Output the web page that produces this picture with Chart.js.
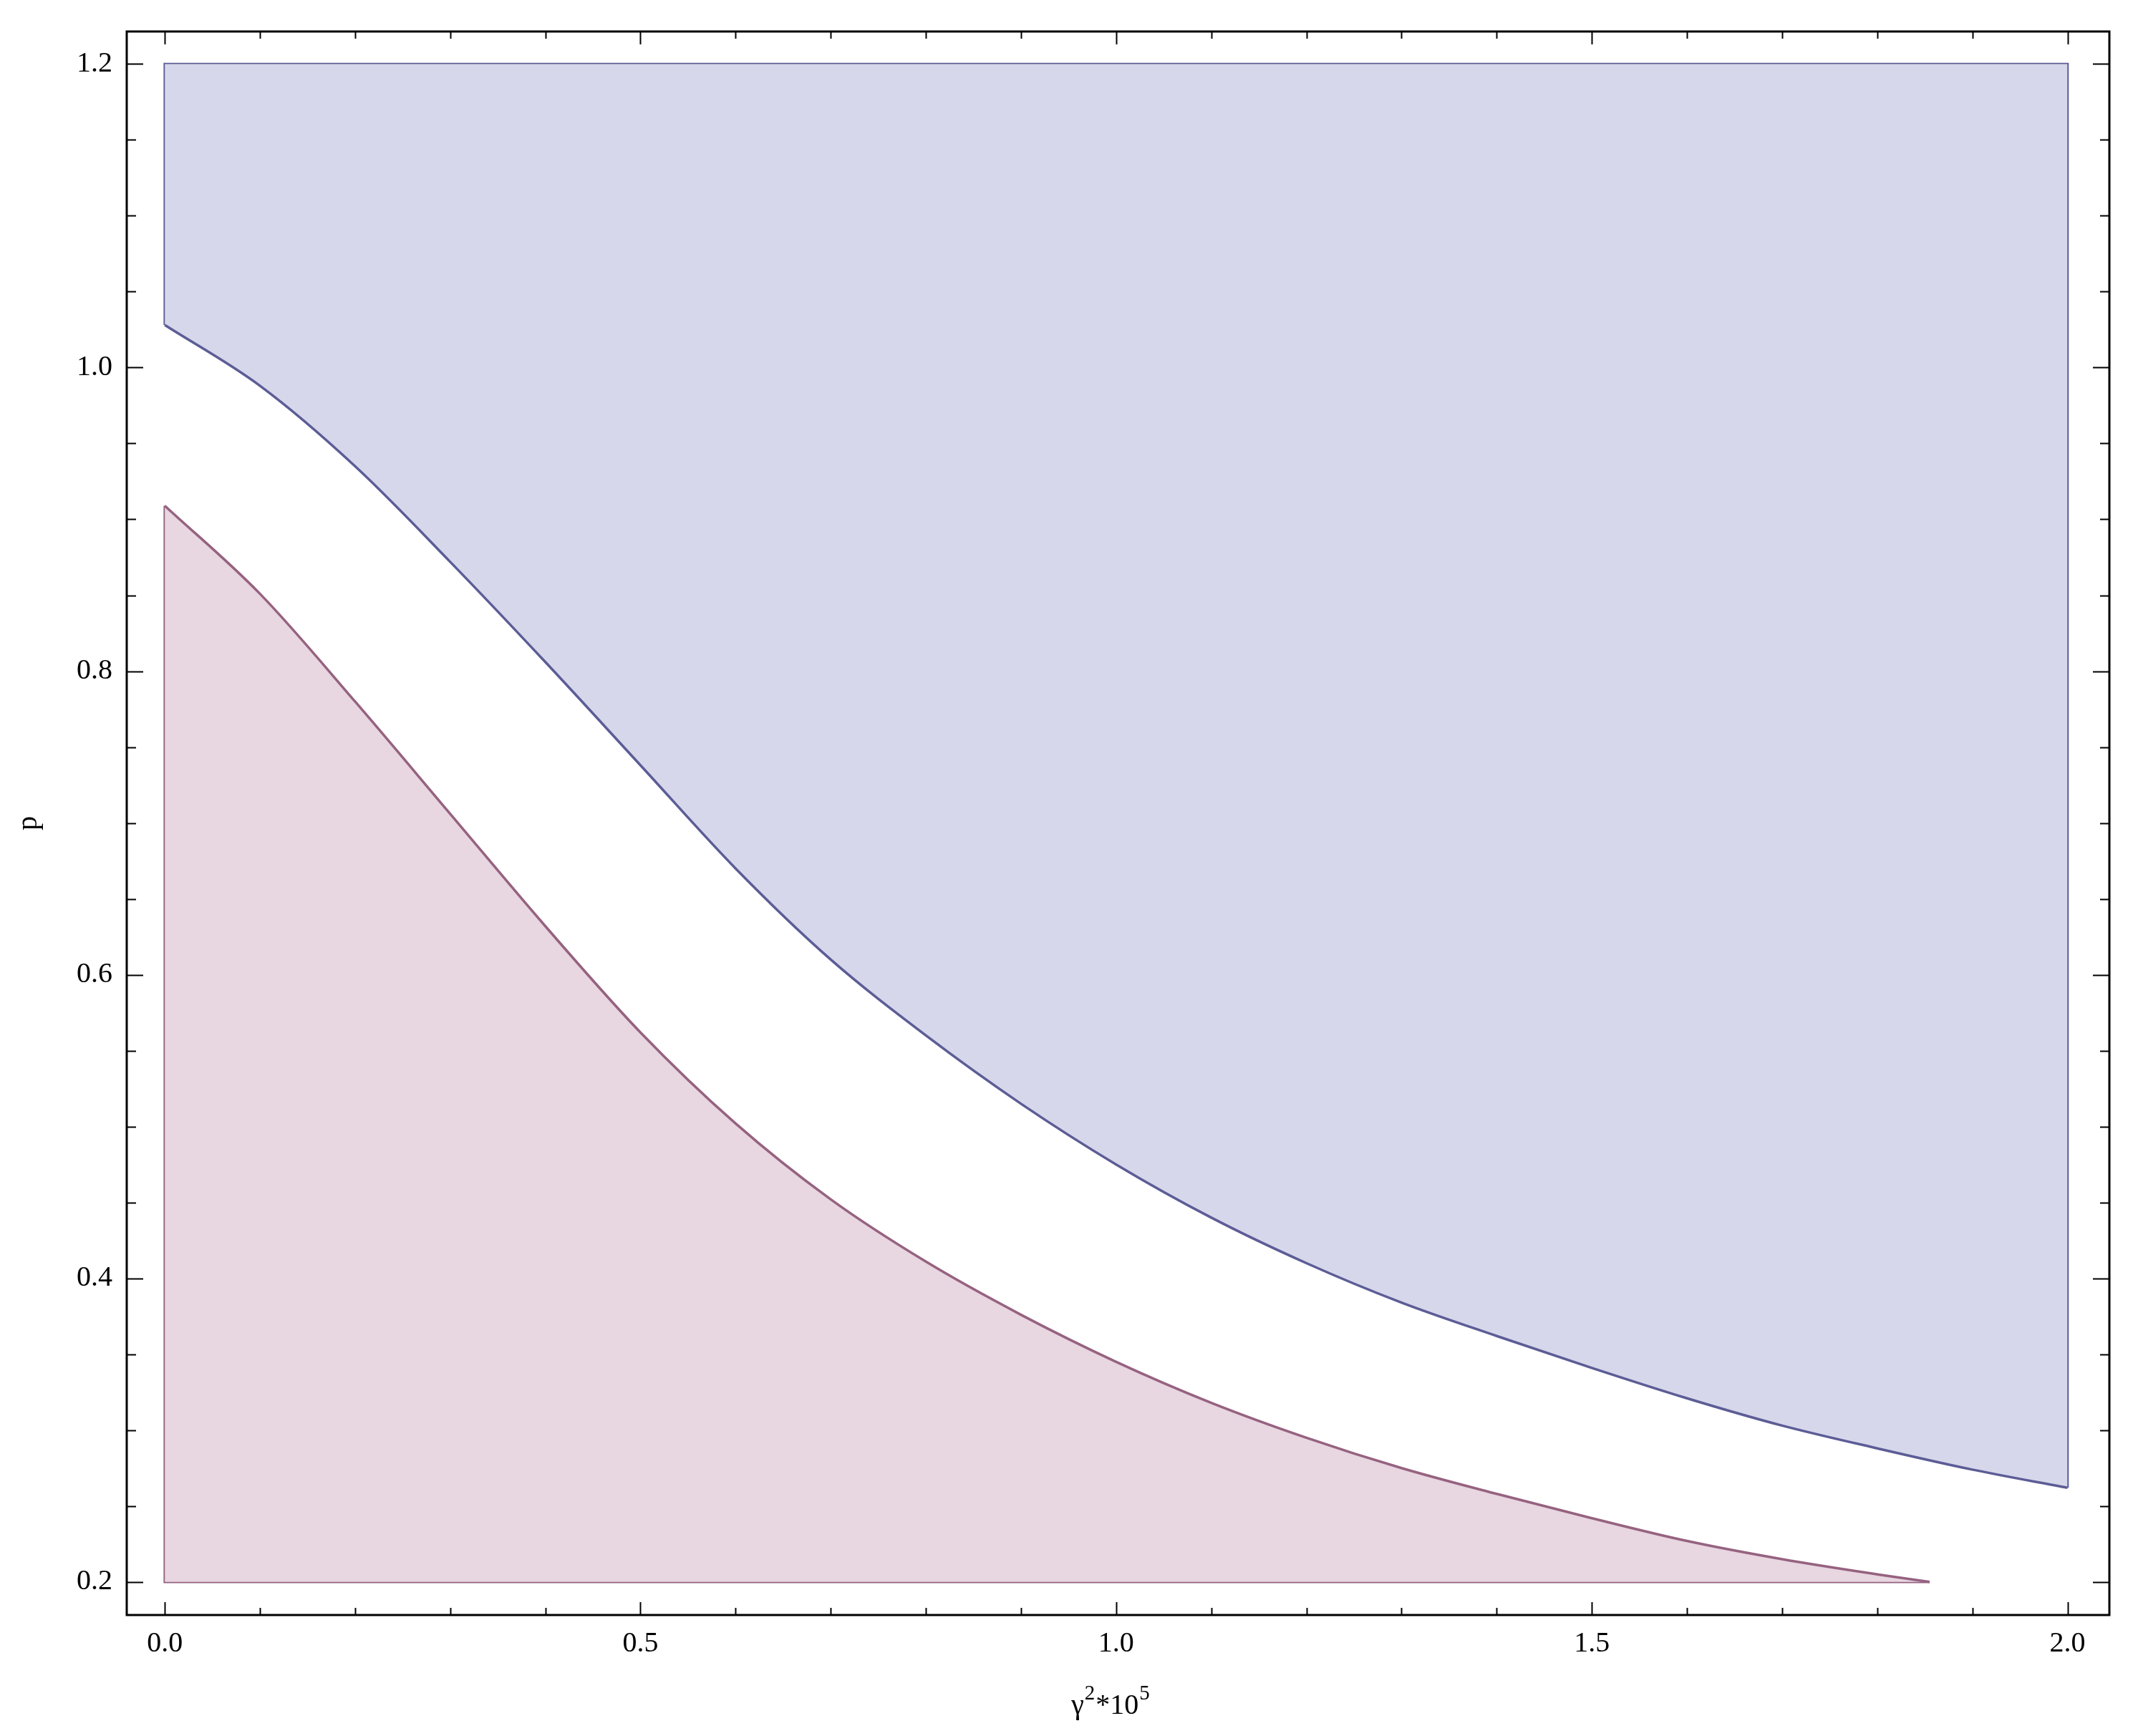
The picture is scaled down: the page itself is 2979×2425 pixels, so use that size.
<!DOCTYPE html>
<html>
<head>
<meta charset="utf-8">
<title>p vs gamma^2</title>
<script src="https://cdn.jsdelivr.net/npm/chart.js@4/dist/chart.umd.min.js"></script>
<style>
  html, body { margin: 0; padding: 0; background: #fff; }
  #wrap { width: 2979px; height: 2425px; position: relative; }
</style>
</head>
<body>
<div id="wrap"><canvas id="regionChart"></canvas></div>
<script>
// ── Data ────────────────────────────────────────────────────────
// upper (blue) region: bounded below by this curve, above by p = 1.2
const blueX = [0, 0.1, 0.2, 0.3, 0.4, 0.5, 0.6, 0.7, 0.8, 0.9, 1.0, 1.1, 1.2, 1.3, 1.4, 1.5, 1.6, 1.7, 1.8, 1.9, 2.0];
const blueP = [1.028, 0.988, 0.935, 0.872, 0.806, 0.738, 0.670, 0.610, 0.560, 0.515, 0.475, 0.440, 0.410, 0.384, 0.362, 0.341, 0.321, 0.303, 0.288, 0.274, 0.262];
const blueTop = 1.2;

// lower (red) region: bounded above by this curve, below by p = 0.2
const redX = [0, 0.1, 0.2, 0.3, 0.4, 0.5, 0.6, 0.7, 0.8, 0.9, 1.0, 1.1, 1.2, 1.3, 1.4, 1.5, 1.6, 1.7, 1.8, 1.855];
const redP = [0.909, 0.851, 0.780, 0.706, 0.632, 0.562, 0.502, 0.452, 0.411, 0.376, 0.345, 0.318, 0.295, 0.275, 0.258, 0.242, 0.227, 0.215, 0.205, 0.200];
const redBottom = 0.2;

// ticks
const xMajor = [0, 0.5, 1.0, 1.5, 2.0];
const xMinor = [0.1, 0.2, 0.3, 0.4, 0.6, 0.7, 0.8, 0.9, 1.1, 1.2, 1.3, 1.4, 1.6, 1.7, 1.8, 1.9];
const yMajor = [0.2, 0.4, 0.6, 0.8, 1.0, 1.2];
const yMinor = [0.25, 0.3, 0.35, 0.45, 0.5, 0.55, 0.65, 0.7, 0.75, 0.85, 0.9, 0.95, 1.05, 1.1, 1.15];

// x axis title pieces: [text, superscript?]
const xTitle = [['γ', false], ['2', true], ['*10', false], ['5', true]];

// ── Styles ──────────────────────────────────────────────────────
const BLUE_FILL = 'rgb(214,215,234)';
const BLUE_LINE = 'rgb(92,92,150)';
const RED_FILL  = 'rgb(232,214,224)';
const RED_LINE  = 'rgb(150,98,128)';
const FONT = '"Liberation Serif", "DejaVu Serif", serif';

function pts(xs, ys) {
  return xs.map((x, i) => ({ x: x, y: ys[i] }));
}

const blueCurve = pts(blueX, blueP);
const redCurve  = pts(redX, redP);
const xFirst = blueX[0], xLast = blueX[blueX.length - 1];
const redEnd = redX[redX.length - 1];

// straight edges of the two regions
const blueEdge = [
  { x: xFirst, y: blueP[0] }, { x: xFirst, y: blueTop },
  { x: xLast, y: blueTop }, { x: xLast, y: blueP[blueP.length - 1] }
];
const redEdge = [
  { x: redX[0], y: redP[0] }, { x: redX[0], y: redBottom }, { x: redEnd, y: redBottom }
];

// frame with inward ticks on all four sides, plus the x title with superscripts
const frameTicks = {
  id: 'frameTicks',
  afterDraw(chart) {
    const { ctx, chartArea: a, scales: { x, y } } = chart;
    ctx.save();
    ctx.strokeStyle = '#000';
    ctx.lineWidth = 2;
    ctx.beginPath();
    const tickX = (v, len) => {
      const px = Math.round(x.getPixelForValue(v)) + 0.5;
      ctx.moveTo(px, a.bottom); ctx.lineTo(px, a.bottom - len);
      ctx.moveTo(px, a.top);    ctx.lineTo(px, a.top + len);
    };
    const tickY = (v, len) => {
      const py = Math.round(y.getPixelForValue(v)) + 0.5;
      ctx.moveTo(a.left, py);  ctx.lineTo(a.left + len, py);
      ctx.moveTo(a.right, py); ctx.lineTo(a.right - len, py);
    };
    xMajor.forEach(v => tickX(v, 18));
    xMinor.forEach(v => tickX(v, 10));
    yMajor.forEach(v => tickY(v, 23));
    yMinor.forEach(v => tickY(v, 13));
    ctx.stroke();
    ctx.lineWidth = 3;
    ctx.strokeRect(a.left, a.top, a.right - a.left, a.bottom - a.top);

    // x axis title
    const main = '40px ' + FONT, sup = '29px ' + FONT;
    let total = 0;
    xTitle.forEach(([t, s]) => { ctx.font = s ? sup : main; total += ctx.measureText(t).width + (s ? 2 : 0); });
    let cx = (a.left + a.right) / 2 - total / 2 - 10;
    const base = a.bottom + 138;
    ctx.fillStyle = '#000';
    ctx.textBaseline = 'alphabetic';
    ctx.textAlign = 'left';
    xTitle.forEach(([t, s]) => {
      ctx.font = s ? sup : main;
      ctx.fillText(t, cx + (s ? 1 : 0), s ? base - 20 : base);
      cx += ctx.measureText(t).width + (s ? 2 : 0);
    });
    ctx.restore();
  }
};

new Chart(document.getElementById('regionChart').getContext('2d'), {
  type: 'scatter',
  data: {
    datasets: [
      { data: blueCurve, showLine: true, fill: { value: blueTop }, backgroundColor: BLUE_FILL,
        borderColor: BLUE_LINE, borderWidth: 3.5, pointRadius: 0, cubicInterpolationMode: 'monotone' },
      { data: blueEdge, showLine: true, fill: false, borderColor: BLUE_LINE, borderWidth: 3.5, pointRadius: 0 },
      { data: redCurve, showLine: true, fill: { value: redBottom }, backgroundColor: RED_FILL,
        borderColor: RED_LINE, borderWidth: 3.5, pointRadius: 0, cubicInterpolationMode: 'monotone' },
      { data: redEdge, showLine: true, fill: false, borderColor: RED_LINE, borderWidth: 3.5, pointRadius: 0 }
    ]
  },
  options: {
    responsive: true,
    maintainAspectRatio: false,
    animation: false,
    layout: { padding: { top: 44, right: 33, left: 0, bottom: 0 } },
    plugins: { legend: { display: false }, tooltip: { enabled: false } },
    scales: {
      x: {
        type: 'linear', min: -0.04, max: 2.044,
        afterBuildTicks: s => { s.ticks = xMajor.map(v => ({ value: v })); },
        afterFit: s => { s.height = 169; },
        grid: { display: false, drawTicks: false },
        border: { display: false },
        ticks: { padding: 16, color: '#000', font: { family: FONT, size: 40 },
                 maxRotation: 0, callback: v => Number(v).toFixed(1) },
        title: { display: false }
      },
      y: {
        type: 'linear', min: 0.1782, max: 1.2214,
        afterBuildTicks: s => { s.ticks = yMajor.map(v => ({ value: v })); },
        afterFit: s => { s.width = 177; },
        grid: { display: false, drawTicks: false },
        border: { display: false },
        ticks: { padding: 20, color: '#000', font: { family: FONT, size: 40 },
                 callback: v => Number(v).toFixed(1) },
        title: { display: true, text: 'p', color: '#000',
                 font: { family: FONT, size: 40 }, padding: { top: 16, bottom: 0 } }
      }
    }
  },
  plugins: [frameTicks]
});
</script>
</body>
</html>
